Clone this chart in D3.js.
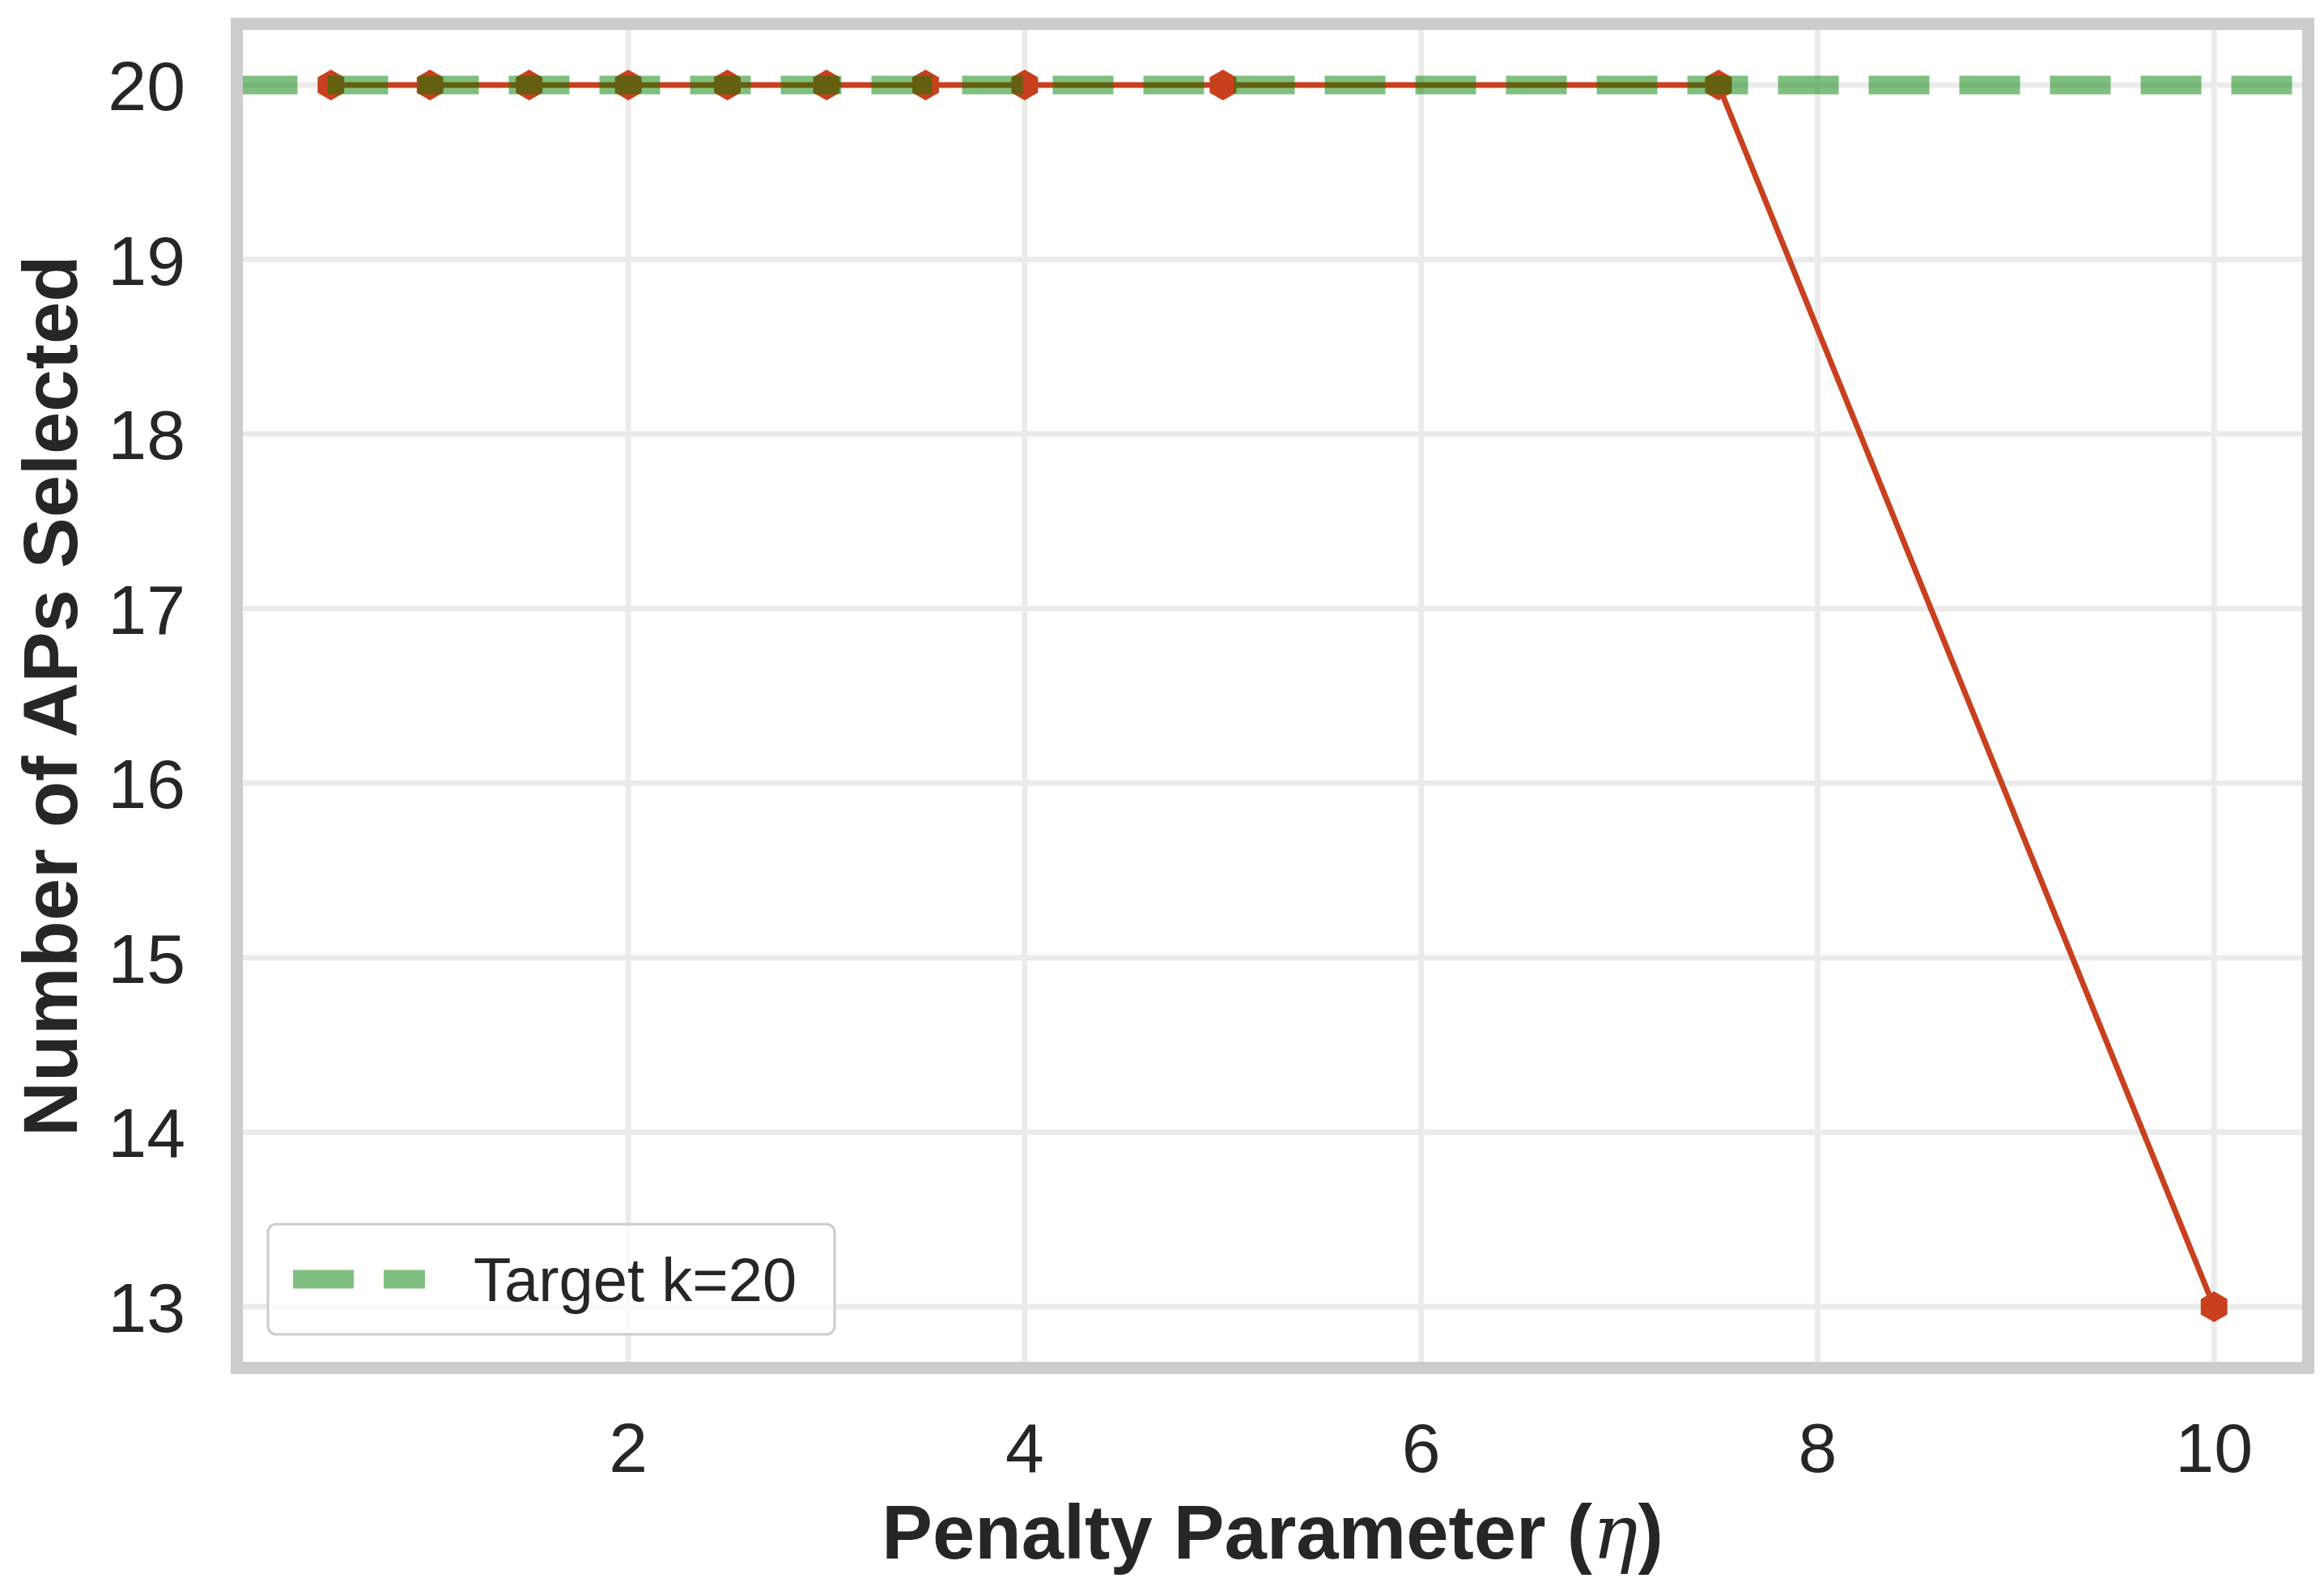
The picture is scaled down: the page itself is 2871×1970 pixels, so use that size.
<!DOCTYPE html>
<html><head><meta charset="utf-8">
<script src="https://cdn.jsdelivr.net/npm/d3@7"></script>
<style>body{margin:0;background:#fff}text{font-family:"Liberation Sans",Arial,sans-serif;fill:#262626}</style>
</head><body><svg id="c" width="2871" height="1970"></svg>
<script>
const etaValues = [0.5,1,1.5,2,2.5,3,3.5,4,5,7.5,10];
const apsSelected = [20,20,20,20,20,20,20,20,20,20,13];
const targetK = 20;
const xTicks = [2,4,6,8,10];
const yTicks = [13,14,15,16,17,18,19,20];

const svg = d3.select("#c");
const L=292.5,R=2851.5,T=29.5,B=1689.5;
const x = d3.scaleLinear().domain([0.025,10.475]).range([L,R]);
const y = d3.scaleLinear().domain([12.65,20.35]).range([B,T]);

const g = svg.append("g");
g.selectAll(".gx").data(xTicks).join("line").attr("x1",d=>x(d)).attr("x2",d=>x(d)).attr("y1",T).attr("y2",B).attr("stroke","#ebebeb").attr("stroke-width",7);
g.selectAll(".gy").data(yTicks).join("line").attr("y1",d=>y(d)).attr("y2",d=>y(d)).attr("x1",L).attr("x2",R).attr("stroke","#ebebeb").attr("stroke-width",7);

const line = d3.line().x((d,i)=>x(etaValues[i])).y(d=>y(d));
g.append("path").datum(apsSelected).attr("d",line).attr("fill","none").attr("stroke","#c8401e").attr("stroke-width",7);
const hex = d3.range(6).map(k=>{const a=Math.PI/2+k*Math.PI/3;return [19*Math.cos(a),19*Math.sin(a)];});
g.selectAll(".m").data(apsSelected).join("path").attr("d","M"+hex.join("L")+"Z")
 .attr("transform",(d,i)=>`translate(${x(etaValues[i])},${y(d)})`).attr("fill","#c8401e");

g.append("line").attr("x1",L).attr("x2",R).attr("y1",y(targetK)).attr("y2",y(targetK))
 .attr("stroke","#008000").attr("stroke-opacity",0.5).attr("stroke-width",23).attr("stroke-dasharray","75,37");

svg.append("rect").attr("x",L).attr("y",T).attr("width",R-L).attr("height",B-T).attr("fill","none").attr("stroke","#cccccc").attr("stroke-width",15);

svg.selectAll(".xt").data(xTicks).join("text").attr("x",d=>x(d)).attr("y",1818).attr("text-anchor","middle").attr("font-size",86).text(d=>d);
svg.selectAll(".yt").data(yTicks).join("text").attr("x",229).attr("y",d=>y(d)+31).attr("text-anchor","end").attr("font-size",86).text(d=>d);

svg.append("text").attr("x",(L+R)/2).attr("y",1925).attr("text-anchor","middle").attr("font-size",94).attr("font-weight","bold")
 .html('Penalty Parameter (<tspan font-style="italic" font-weight="normal" font-family="DejaVu Serif">η</tspan>)');
svg.append("text").attr("transform",`translate(95,${(T+B)/2}) rotate(-90)`).attr("text-anchor","middle").attr("font-size",94).attr("font-weight","bold").text("Number of APs Selected");

const lg = svg.append("g");
lg.append("rect").attr("x",331).attr("y",1512).attr("width",700).attr("height",136).attr("rx",10).attr("fill","#fff").attr("fill-opacity",0.8).attr("stroke","#cccccc").attr("stroke-width",3);
lg.append("line").attr("x1",362).attr("x2",525).attr("y1",1580).attr("y2",1580).attr("stroke","#008000").attr("stroke-opacity",0.5).attr("stroke-width",23).attr("stroke-dasharray","75,37");
lg.append("text").attr("x",585).attr("y",1607).attr("font-size",76).text("Target k=20");
</script></body></html>
